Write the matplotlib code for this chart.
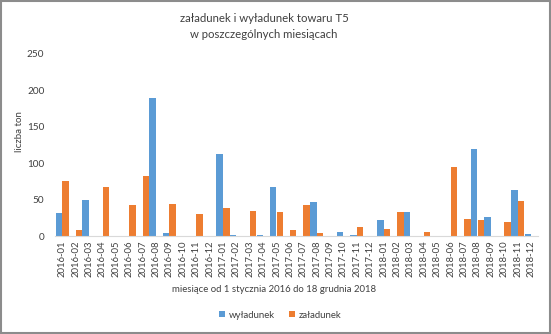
import numpy as np
import matplotlib
matplotlib.use("Agg")
import matplotlib.pyplot as plt
from matplotlib.patches import Rectangle

plt.rcParams['font.family'] = ['Lato', 'DejaVu Sans']

months = ['2016-01', '2016-02', '2016-03', '2016-04', '2016-05', '2016-06',
          '2016-07', '2016-08', '2016-09', '2016-10', '2016-11', '2016-12',
          '2017-01', '2017-02', '2017-03', '2017-04', '2017-05', '2017-06',
          '2017-07', '2017-08', '2017-09', '2017-10', '2017-11', '2017-12',
          '2018-01', '2018-02', '2018-03', '2018-04', '2018-05', '2018-06',
          '2018-07', '2018-08', '2018-09', '2018-10', '2018-11', '2018-12']

wyladunek = [32, 0, 50, 0, 0, 0, 0, 190, 4, 0, 0, 0,
             112, 1, 0, 1, 67, 0, 0, 47, 0, 6, 1, 0,
             22, 0, 33, 0, 0, 0, 0, 120, 26, 0, 63, 3]
zaladunek = [76, 8, 0, 67, 0, 42, 83, 0, 44, 0, 30, 0,
             39, 0, 35, 0, 33, 8, 42, 4, 0, 0, 12, 0,
             10, 33, 0, 5, 0, 95, 24, 22, 0, 19, 48, 0]

blue = '#5B9BD5'
orange = '#ED7D31'
text_col = '#404040'

fig = plt.figure(figsize=(5.51, 3.34), dpi=100)
ax = fig.add_axes([0.1007, 0.2934, 0.8753, 0.5452])

x = np.arange(len(months))
w = 0.48
ax.bar(x - 0.25, wyladunek, w, color=blue, label='wyładunek')
ax.bar(x + 0.25, zaladunek, w, color=orange, label='załadunek')

ax.set_xlim(-0.5, len(months) - 0.5)
ax.set_ylim(0, 250)
ax.set_yticks(np.arange(0, 251, 50))
ax.set_xticks(x)
ax.set_xticklabels(months, rotation=90, fontsize=6.8, color=text_col)
ax.tick_params(axis='y', labelsize=7.2, colors=text_col, length=0, pad=8)
ax.tick_params(axis='x', length=0, pad=3)

for s in ['top', 'right', 'left']:
    ax.spines[s].set_visible(False)
ax.spines['bottom'].set_color('#d9d9d9')

# axis titles placed like in the source chart
fig.text(20 / 551, 1 - 132 / 334, 'liczba ton', rotation=90, ha='center',
         va='center', fontsize=7, color=text_col)
fig.text(274 / 551, 1 - 290 / 334, 'miesiące od 1 stycznia 2016 do 18 grudnia 2018',
         ha='center', va='center', fontsize=6.9, color=text_col)

fig.text(264 / 551, 1 - 19 / 334, 'załadunek i wyładunek towaru T5', ha='center',
         va='center', fontsize=8.2, color=text_col)
fig.text(264 / 551, 1 - 34 / 334, 'w poszczególnych miesiącach', ha='center',
         va='center', fontsize=8.2, color=text_col)

fig.legend(loc='center', bbox_to_anchor=(280 / 551, 1 - 315 / 334), ncol=2,
           frameon=False, fontsize=6.9, handlelength=0.6, handleheight=0.6,
           columnspacing=1.5, handletextpad=0.4, labelcolor=text_col)

fig.patches.append(Rectangle((0.002, 0.002), 0.996, 0.994, transform=fig.transFigure,
                             fill=False, edgecolor='#8c8c8c', linewidth=1.5))

fig.savefig('out.png', dpi=100)
